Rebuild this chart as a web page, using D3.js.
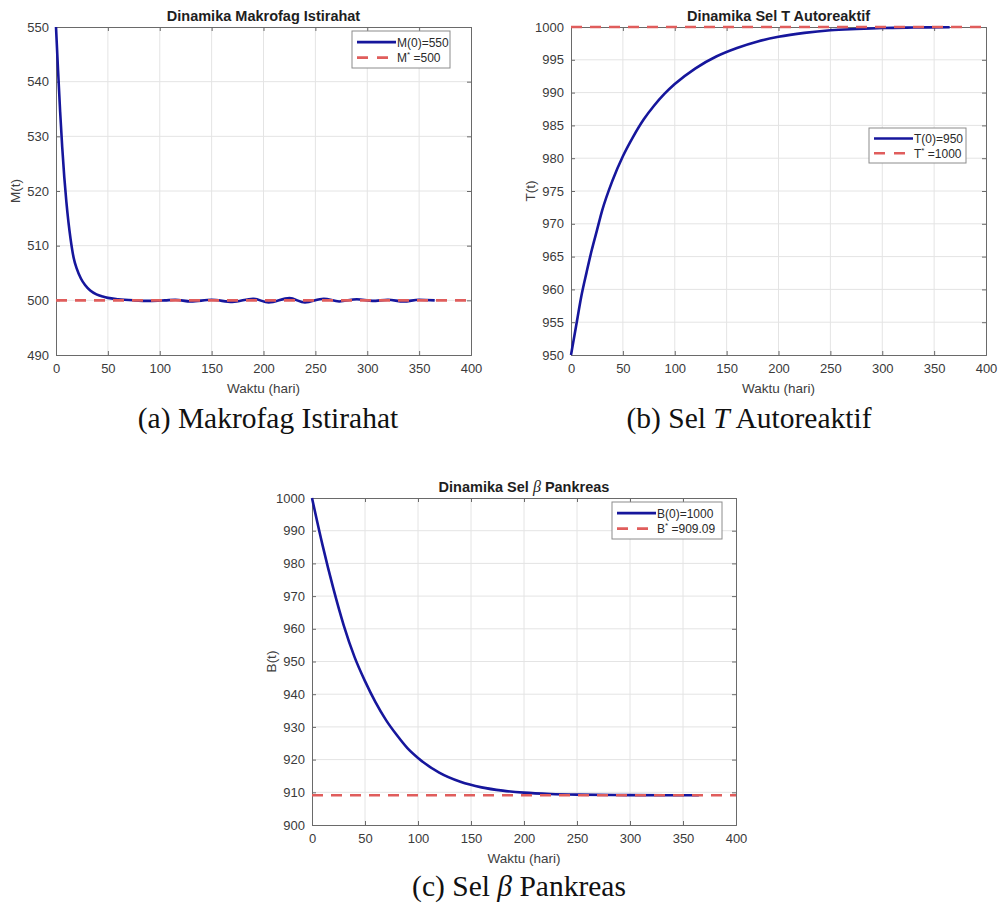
<!DOCTYPE html>
<html>
<head>
<meta charset="utf-8">
<script src="https://cdn.jsdelivr.net/npm/d3@7"></script>
<style>
  body { margin: 0; background: #fff; }
  svg { display: block; }
</style>
</head>
<body>
<svg id="fig" width="1000" height="906"></svg>
<script>
// Simulated trajectories (day, value)
const hariM  = [0, 2, 4, 6, 8, 10, 12, 14, 17, 20, 24, 28, 33, 39, 45, 50, 60, 75, 90, 105, 115, 130, 150, 170, 190, 205, 225, 240, 258, 273, 290, 305, 320, 335, 350, 365];
const nilaiM = [550, 542, 534.5, 528, 522.5, 518, 514.3, 511.3, 507.8, 505.8, 504.0, 502.8, 501.8, 501.1, 500.7, 500.45, 500.2, 500.0, 499.9, 500.0, 500.1, 499.8, 500.1, 499.7, 500.3, 499.6, 500.4, 499.6, 500.3, 499.8, 500.2, 499.9, 500.1, 499.8, 500.1, 500.0];

const hariT  = [0, 5, 10, 15, 20, 25, 30, 40, 50, 60, 70, 80, 90, 100, 120, 140, 160, 180, 200, 225, 250, 275, 300, 330, 365];
const nilaiT = [950, 954.5, 959, 962.6, 966, 969, 972, 976.6, 980.3, 983.3, 985.9, 988.0, 989.8, 991.3, 993.7, 995.5, 996.8, 997.8, 998.5, 999.1, 999.5, 999.7, 999.85, 999.92, 999.96];

const hariB  = [0, 10, 20, 30, 40, 50, 60, 70, 80, 90, 100, 120, 140, 160, 180, 200, 225, 250, 300, 365];
const nilaiB = [1000, 985.5, 972.5, 961, 951.5, 944, 937.5, 932, 927.5, 923.5, 920.5, 916, 913.2, 911.5, 910.5, 909.9, 909.5, 909.3, 909.15, 909.1];

// Equilibrium levels
const setimbangM = 500;
const setimbangT = 1000;
const setimbangB = 909.09;

// Axis ticks
const xTicks  = [0, 50, 100, 150, 200, 250, 300, 350, 400];
const yTicksM = [490, 500, 510, 520, 530, 540, 550];
const yTicksT = [950, 955, 960, 965, 970, 975, 980, 985, 990, 995, 1000];
const yTicksB = [900, 910, 920, 930, 940, 950, 960, 970, 980, 990, 1000];

const svg = d3.select("#fig");
const FONT = "'Liberation Sans', Arial, sans-serif";
const SERIF = "'Liberation Serif', 'Times New Roman', serif";
const BLUE = "#16169c";
const RED = "#e05d5c";

function drawPanel(p) {
  const x = d3.scaleLinear().domain([0, 400]).range([p.l, p.r]);
  const y = d3.scaleLinear().domain(p.yDomain).range([p.b, p.t]);
  const g = svg.append("g");

  // grid
  g.append("g").selectAll("line").data(xTicks.slice(1, -1)).join("line")
    .attr("x1", d => x(d)).attr("x2", d => x(d)).attr("y1", p.t).attr("y2", p.b)
    .attr("stroke", "#e4e4e4").attr("stroke-width", 1);
  g.append("g").selectAll("line").data(p.yTicks.slice(1, -1)).join("line")
    .attr("y1", d => y(d)).attr("y2", d => y(d)).attr("x1", p.l).attr("x2", p.r)
    .attr("stroke", "#e4e4e4").attr("stroke-width", 1);

  // axes frame with inward ticks
  const axB = d3.axisBottom(x).tickValues(xTicks).tickSize(-4).tickPadding(9).tickFormat(d3.format("d"));
  const axT = d3.axisTop(x).tickValues(xTicks).tickSize(-4).tickFormat("");
  const axL = d3.axisLeft(y).tickValues(p.yTicks).tickSize(-4).tickPadding(7).tickFormat(d3.format("d"));
  const axR = d3.axisRight(y).tickValues(p.yTicks).tickSize(-4).tickFormat("");
  const styleAxis = sel => {
    sel.select(".domain").attr("stroke", "#6a6a6a").attr("stroke-width", 1);
    sel.selectAll(".tick line").attr("stroke", "#6a6a6a");
    sel.selectAll("text").attr("fill", "#3a3a3a").style("font-family", FONT).style("font-size", "13px");
  };
  g.append("g").attr("transform", `translate(0,${p.b})`).call(axB).call(styleAxis);
  g.append("g").attr("transform", `translate(0,${p.t})`).call(axT).call(styleAxis);
  g.append("g").attr("transform", `translate(${p.l},0)`).call(axL).call(styleAxis);
  g.append("g").attr("transform", `translate(${p.r},0)`).call(axR).call(styleAxis);

  // trajectory
  const pts = p.hari.map((h, i) => [h, p.nilai[i]]);
  const line = d3.line().x(d => x(d[0])).y(d => y(d[1])).curve(d3.curveMonotoneX);
  g.append("path").datum(pts).attr("d", line)
    .attr("fill", "none").attr("stroke", BLUE).attr("stroke-width", 2.6)
    .attr("stroke-linejoin", "round");

  // equilibrium
  g.append("line").attr("x1", x(0)).attr("x2", x(400)).attr("y1", y(p.eq)).attr("y2", y(p.eq))
    .attr("stroke", RED).attr("stroke-width", 2.6).attr("stroke-dasharray", "11,8");

  // title
  const title = g.append("text").attr("x", (p.l + p.r) / 2).attr("y", p.t - 6)
    .attr("text-anchor", "middle").attr("fill", "#1e1e1e")
    .style("font-family", FONT).style("font-size", "14.5px").style("font-weight", "bold");
  p.title.forEach(s => {
    const t = title.append("tspan").text(s.text);
    if (s.italic) t.style("font-style", "italic").style("font-weight", "normal").style("font-family", SERIF).style("font-size", "16px");
  });

  // axis labels
  g.append("text").attr("x", (p.l + p.r) / 2).attr("y", p.b + 38)
    .attr("text-anchor", "middle").attr("fill", "#404040")
    .style("font-family", FONT).style("font-size", "13.5px").text("Waktu (hari)");
  g.append("text").attr("transform", `translate(${p.l - 36},${(p.t + p.b) / 2}) rotate(-90)`)
    .attr("text-anchor", "middle").attr("fill", "#404040")
    .style("font-family", FONT).style("font-size", "13.5px").text(p.ylabel);

  // legend
  const L = p.legend;
  const lg = g.append("g").attr("transform", `translate(${L.x},${L.y})`);
  lg.append("rect").attr("width", L.w).attr("height", L.h)
    .attr("fill", "#fff").attr("stroke", "#8c8c8c").attr("stroke-width", 1);
  const r1 = L.h * 0.3, r2 = L.h * 0.72;
  lg.append("line").attr("x1", 5).attr("x2", 44).attr("y1", r1).attr("y2", r1)
    .attr("stroke", BLUE).attr("stroke-width", 2.6);
  lg.append("line").attr("x1", 5).attr("x2", 44).attr("y1", r2).attr("y2", r2)
    .attr("stroke", RED).attr("stroke-width", 2.6).attr("stroke-dasharray", "11,9");
  lg.append("text").attr("x", 45).attr("y", r1 + 4.5).attr("fill", "#2a2a2a")
    .style("font-family", FONT).style("font-size", "12px").text(L.label1);
  const t2 = lg.append("text").attr("x", 45).attr("y", r2 + 4.5).attr("fill", "#2a2a2a")
    .style("font-family", FONT).style("font-size", "12px");
  t2.append("tspan").text(L.sym);
  t2.append("tspan").attr("dy", -5).style("font-size", "8px").text("*");
  t2.append("tspan").attr("dy", 5).text(" =" + L.eqText);

  // caption
  const cap = svg.append("text").attr("x", p.capX).attr("y", p.capY)
    .attr("text-anchor", "middle").attr("fill", "#111")
    .style("font-family", SERIF).style("font-size", "29.5px");
  p.caption.forEach(s => {
    const t = cap.append("tspan").text(s.text);
    if (s.italic) t.style("font-style", "italic");
  });
}

drawPanel({
  l: 56, r: 471, t: 27, b: 355, yDomain: [490, 550], yTicks: yTicksM,
  hari: hariM, nilai: nilaiM, eq: setimbangM,
  title: [{ text: "Dinamika Makrofag Istirahat" }], ylabel: "M(t)",
  legend: { x: 352, y: 31, w: 98, h: 37, label1: "M(0)=550", sym: "M", eqText: "500" },
  caption: [{ text: "(a) Makrofag Istirahat" }], capX: 268, capY: 428
});

drawPanel({
  l: 571, r: 986, t: 27, b: 355, yDomain: [950, 1000], yTicks: yTicksT,
  hari: hariT, nilai: nilaiT, eq: setimbangT,
  title: [{ text: "Dinamika Sel T Autoreaktif" }], ylabel: "T(t)",
  legend: { x: 869, y: 128, w: 97, h: 35, label1: "T(0)=950", sym: "T", eqText: "1000" },
  caption: [{ text: "(b) Sel " }, { text: "T", italic: true }, { text: " Autoreaktif" }], capX: 749, capY: 428
});

drawPanel({
  l: 312, r: 736, t: 498, b: 825, yDomain: [900, 1000], yTicks: yTicksB,
  hari: hariB, nilai: nilaiB, eq: setimbangB,
  title: [{ text: "Dinamika Sel " }, { text: "β", italic: true }, { text: " Pankreas" }], ylabel: "B(t)",
  legend: { x: 612, y: 502, w: 110, h: 37, label1: "B(0)=1000", sym: "B", eqText: "909.09" },
  caption: [{ text: "(c) Sel " }, { text: "β", italic: true }, { text: " Pankreas" }], capX: 519, capY: 896
});
</script>
</body>
</html>
